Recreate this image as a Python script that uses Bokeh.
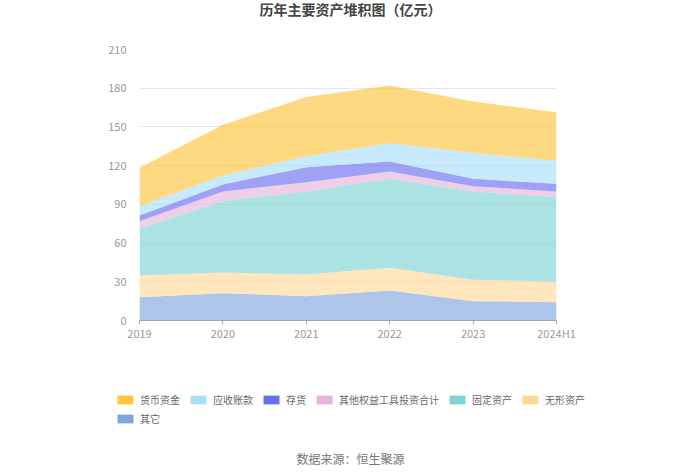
from bokeh.plotting import figure
from bokeh.layouts import column
from bokeh.models import (ColumnDataSource, Legend, LegendItem, Label, Range1d,
                          FixedTicker)
from bokeh.embed import file_html
from bokeh.resources import INLINE

# ---- data (亿元) ----
years = ["2019", "2020", "2021", "2022", "2023", "2024H1"]
other = [18.1, 21.2, 18.8, 23.2, 15.0, 14.2]          # 其它
intangible = [16.8, 16.0, 16.8, 17.6, 16.5, 16.0]     # 无形资产
fixed_assets = [36.6, 55.3, 64.4, 69.0, 68.5, 65.4]   # 固定资产
equity_inv = [5.5, 7.5, 7.2, 5.7, 4.1, 4.4]           # 其他权益工具投资合计
inventory = [4.4, 5.4, 11.6, 7.7, 5.7, 5.9]           # 存货
receivable = [7.2, 7.0, 8.5, 14.2, 20.1, 17.8]        # 应收账款
cash = [29.7, 39.2, 45.8, 44.7, 39.8, 37.7]           # 货币资金

# stacking order bottom -> top
keys = ["other", "intangible", "fixed", "equity", "inventory", "receivable", "cash"]
names = ["其它", "无形资产", "固定资产", "其他权益工具投资合计", "存货", "应收账款", "货币资金"]
colors = ["#7FA6DB", "#FFD899", "#7ED4D4", "#E6B3DB", "#6C6FF0", "#A9DFFB", "#FFC53D"]
series = [other, intangible, fixed_assets, equity_inv, inventory, receivable, cash]

FONT = "Noto Sans CJK SC"
W = 696
NAN = float("nan")


def blank(height):
    f = figure(width=W, height=height, output_backend="svg", toolbar_location=None,
               x_range=Range1d(0, 1), y_range=Range1d(0, 1),
               x_axis_location=None, y_axis_location=None,
               min_border_left=0, min_border_right=0, min_border_top=0,
               min_border_bottom=0, frame_align=False)
    f.outline_line_color = None
    f.xgrid.grid_line_color = None
    f.ygrid.grid_line_color = None
    f.background_fill_color = "white"
    f.border_fill_color = "white"
    return f


# ---- title strip ----
t = blank(20)
t.add_layout(Label(x=350, y=12, x_units="screen", y_units="screen",
                   text="历年主要资产堆积图（亿元）", text_align="center",
                   text_baseline="middle", text_font=FONT, text_font_size="14px",
                   text_font_style="bold", text_color="#444444"))

# ---- main chart ----
data = {"x": list(range(len(years)))}
for k, s in zip(keys, series):
    data[k] = s
source = ColumnDataSource(data)

p = figure(width=W, height=328, output_backend="svg", toolbar_location=None,
           x_range=Range1d(0, len(years) - 1), y_range=Range1d(0, 210),
           min_border_left=139, min_border_right=140, min_border_top=29,
           min_border_bottom=28, frame_align=False)
p.outline_line_color = None
p.background_fill_color = "white"
p.border_fill_color = "white"

p.varea_stack(keys, x="x", source=source, color=colors, fill_alpha=0.65)

p.xaxis.ticker = FixedTicker(ticks=list(range(len(years))))
p.xaxis.major_label_overrides = {i: y for i, y in enumerate(years)}
p.xaxis.axis_line_color = "#9aa3b5"
p.xaxis.major_tick_line_color = "#9aa3b5"
p.xaxis.major_tick_out = 4
p.xaxis.major_tick_in = 0
p.xaxis.minor_tick_line_color = None
p.xaxis.major_label_text_color = "#999999"
p.xaxis.major_label_text_font = FONT
p.xaxis.major_label_text_font_size = "11px"
p.xaxis.major_label_standoff = 0

p.yaxis.ticker = FixedTicker(ticks=list(range(0, 211, 30)))
p.yaxis.axis_line_color = None
p.yaxis.major_tick_line_color = None
p.yaxis.minor_tick_line_color = None
p.yaxis.major_label_text_color = "#999999"
p.yaxis.major_label_text_font = FONT
p.yaxis.major_label_text_font_size = "11px"
p.yaxis.major_label_standoff = 7

p.xgrid.grid_line_color = None
p.ygrid.grid_line_color = "#E6E6E6"
p.ygrid.ticker = FixedTicker(ticks=list(range(30, 211, 30)))

# ---- legend + source strip ----
b = blank(122)


def make_items(idx):
    out = []
    for i in idx:
        r = b.quad(left=[NAN], right=[NAN], top=[NAN], bottom=[NAN],
                   fill_color=colors[i], line_color=None)
        out.append(LegendItem(label=names[i], renderers=[r]))
    return out


common = dict(orientation="horizontal", padding=0, margin=0, spacing=8,
              glyph_width=20, glyph_height=11, label_height=11,
              label_standoff=5, border_line_color=None,
              background_fill_alpha=0,
              label_text_font=FONT, label_text_font_size="10px",
              label_text_color="#666666")
legend1 = Legend(items=make_items([6, 5, 4, 3, 2, 1]), location=(115, 63), **common)
legend2 = Legend(items=make_items([0]), location=(115, 44), **common)
b.add_layout(legend1, "center")
b.add_layout(legend2, "center")
b.add_layout(Label(x=350, y=12.5, x_units="screen", y_units="screen",
                   text="数据来源：恒生聚源", text_align="center",
                   text_baseline="middle", text_font=FONT, text_font_size="12px",
                   text_color="#777777"))

layout = column(t, p, b, spacing=0)
open("out.html", "w").write(file_html(layout, INLINE))
